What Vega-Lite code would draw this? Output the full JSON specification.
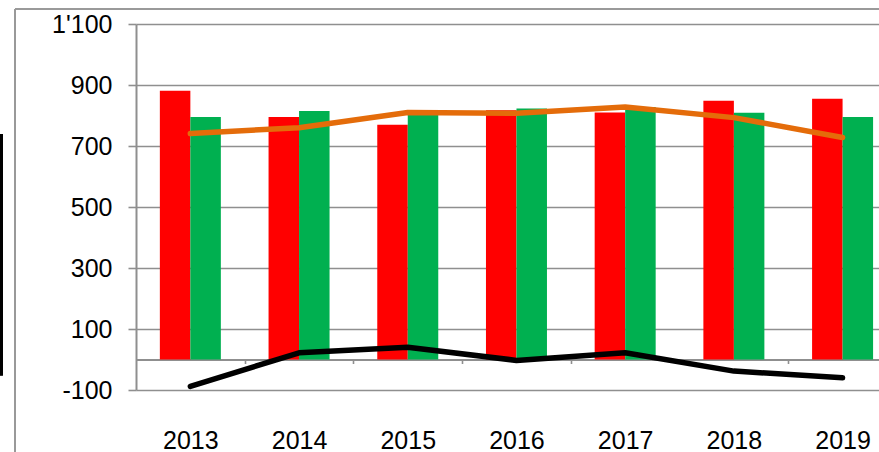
{
  "$schema": "https://vega.github.io/schema/vega-lite/v6.json",
  "autosize": "none",
  "width": 743,
  "height": 366,
  "padding": {"left": 136, "top": 24, "right": 0, "bottom": 62},
  "background": "white",
  "config": {
    "view": {"stroke": null},
    "axis": {"labelFont": "Liberation Sans", "labelColor": "#000000"}
  },
  "data": {
    "values": [
      {"year": 2013, "series": "red", "value": 881},
      {"year": 2014, "series": "red", "value": 795},
      {"year": 2015, "series": "red", "value": 770},
      {"year": 2016, "series": "red", "value": 817},
      {"year": 2017, "series": "red", "value": 810},
      {"year": 2018, "series": "red", "value": 848},
      {"year": 2019, "series": "red", "value": 855},
      {"year": 2013, "series": "green", "value": 795},
      {"year": 2014, "series": "green", "value": 815},
      {"year": 2015, "series": "green", "value": 815},
      {"year": 2016, "series": "green", "value": 823},
      {"year": 2017, "series": "green", "value": 828},
      {"year": 2018, "series": "green", "value": 809},
      {"year": 2019, "series": "green", "value": 795},
      {"year": 2013, "series": "orange", "value": 741},
      {"year": 2014, "series": "orange", "value": 760},
      {"year": 2015, "series": "orange", "value": 810},
      {"year": 2016, "series": "orange", "value": 807},
      {"year": 2017, "series": "orange", "value": 828},
      {"year": 2018, "series": "orange", "value": 793},
      {"year": 2019, "series": "orange", "value": 728},
      {"year": 2013, "series": "black", "value": -88},
      {"year": 2014, "series": "black", "value": 22},
      {"year": 2015, "series": "black", "value": 40},
      {"year": 2016, "series": "black", "value": -3},
      {"year": 2017, "series": "black", "value": 22},
      {"year": 2018, "series": "black", "value": -38},
      {"year": 2019, "series": "black", "value": -60}
    ]
  },
  "resolve": {"axis": {"x": "independent", "y": "independent"}},
  "layer": [
    {
      "transform": [{"filter": "datum.series === 'red'"}],
      "mark": {"type": "bar", "color": "#FF0000", "size": 30.5, "xOffset": -15.25},
      "encoding": {
        "x": {
          "field": "year", "type": "quantitative",
          "scale": {"domain": [2012.5, 2019.335], "nice": false, "zero": false, "padding": 0},
          "axis": {
            "orient": "bottom", "values": [2013, 2014, 2015, 2016, 2017, 2018, 2019],
            "format": "d", "title": null, "grid": false, "ticks": false, "domain": false,
            "labelFontSize": 25, "labelPadding": 38, "labelFlush": false, "labelOverlap": false
          }
        },
        "y": {
          "field": "value", "type": "quantitative",
          "scale": {"domain": [-100, 1100], "nice": false, "zero": false, "padding": 0},
          "axis": {
            "orient": "left",
            "values": [-100, 100, 300, 500, 700, 900, 1100],
            "labelExpr": "replace(replace(format(datum.value, ','), ',', \"'\"), '\u2212', '-')",
            "title": null, "grid": true, "gridColor": "#8f8f8f", "gridWidth": 1.6,
            "domain": true, "domainColor": "#8f8f8f", "domainWidth": 2,
            "ticks": true, "tickSize": 8, "tickColor": "#8f8f8f", "tickWidth": 1.6,
            "labelFontSize": 25, "labelPadding": 16, "labelFlush": false, "labelOverlap": false
          }
        }
      }
    },
    {
      "transform": [{"filter": "datum.series === 'green'"}],
      "mark": {"type": "bar", "color": "#00B050", "size": 30.5, "xOffset": 15.25},
      "encoding": {
        "x": {"field": "year", "type": "quantitative", "axis": null},
        "y": {"field": "value", "type": "quantitative", "axis": null}
      }
    },
    {
      "transform": [{"filter": "datum.series === 'orange'"}],
      "mark": {"type": "line", "color": "#E46C0A", "strokeWidth": 5.5, "strokeCap": "round", "strokeJoin": "round"},
      "encoding": {
        "x": {"field": "year", "type": "quantitative", "axis": null},
        "y": {"field": "value", "type": "quantitative", "axis": null}
      }
    },
    {
      "transform": [{"filter": "datum.series === 'black'"}],
      "mark": {"type": "line", "color": "#000000", "strokeWidth": 5.5, "strokeCap": "round", "strokeJoin": "round"},
      "encoding": {
        "x": {
          "field": "year", "type": "quantitative",
          "axis": {
            "orient": "bottom", "offset": -30.5,
            "values": [2013.5, 2014.5, 2015.5, 2016.5, 2017.5, 2018.5, 2019.5],
            "labels": false, "title": null, "grid": false,
            "domain": true, "domainColor": "#8f8f8f", "domainWidth": 2,
            "ticks": true, "tickSize": 4, "tickColor": "#8f8f8f", "tickWidth": 1.6
          }
        },
        "y": {"field": "value", "type": "quantitative", "axis": null}
      }
    },
    {
      "mark": {"type": "rule", "color": "#9a9a9a", "strokeWidth": 1.2, "clip": false},
      "encoding": {
        "x": {"datum": 2011.387, "type": "quantitative", "axis": null},
        "y": {"datum": 1149, "type": "quantitative", "axis": null},
        "y2": {"datum": -303}
      }
    },
    {
      "mark": {"type": "rule", "color": "#9a9a9a", "strokeWidth": 1.2, "clip": false},
      "encoding": {
        "x": {"datum": 2011.387, "type": "quantitative", "axis": null},
        "x2": {"datum": 2019.335},
        "y": {"datum": 1149, "type": "quantitative", "axis": null}
      }
    },
    {
      "mark": {"type": "rule", "color": "#000000", "strokeWidth": 3, "clip": false},
      "encoding": {
        "x": {"datum": 2011.262, "type": "quantitative", "axis": null},
        "y": {"datum": 737, "type": "quantitative", "axis": null},
        "y2": {"datum": -51}
      }
    }
  ]
}
